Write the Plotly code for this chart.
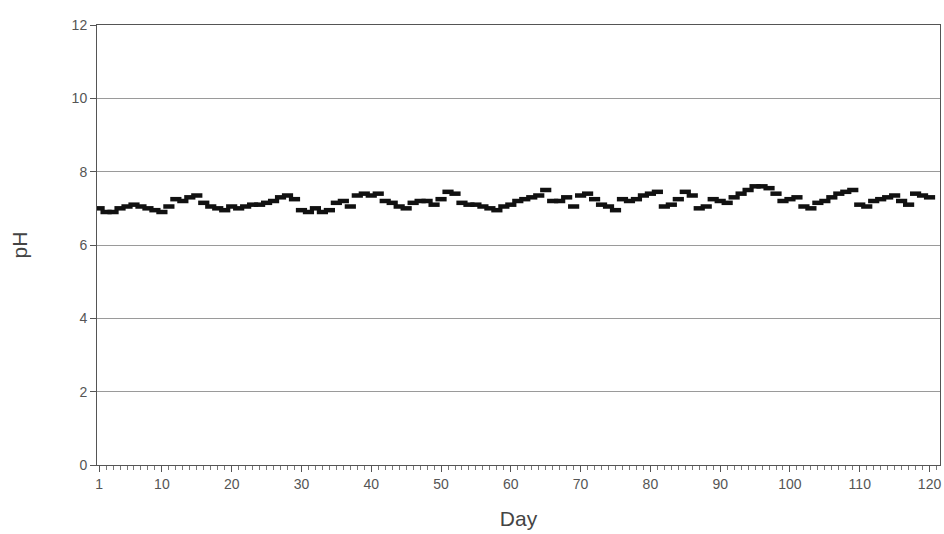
import plotly.graph_objects as go

days = list(range(1, 121))
ph = [
    7.0, 6.9, 6.9, 7.0, 7.05, 7.1, 7.05, 7.0, 6.95, 6.9,
    7.05, 7.25, 7.2, 7.3, 7.35, 7.15, 7.05, 7.0, 6.95, 7.05,
    7.0, 7.05, 7.1, 7.1, 7.15, 7.2, 7.3, 7.35, 7.25, 6.95,
    6.9, 7.0, 6.9, 6.95, 7.15, 7.2, 7.05, 7.35, 7.4, 7.35,
    7.4, 7.2, 7.15, 7.05, 7.0, 7.15, 7.2, 7.2, 7.1, 7.25,
    7.45, 7.4, 7.15, 7.1, 7.1, 7.05, 7.0, 6.95, 7.05, 7.1,
    7.2, 7.25, 7.3, 7.35, 7.5, 7.2, 7.2, 7.3, 7.05, 7.35,
    7.4, 7.25, 7.1, 7.05, 6.95, 7.25, 7.2, 7.25, 7.35, 7.4,
    7.45, 7.05, 7.1, 7.25, 7.45, 7.35, 7.0, 7.05, 7.25, 7.2,
    7.15, 7.3, 7.4, 7.5, 7.6, 7.6, 7.55, 7.4, 7.2, 7.25,
    7.3, 7.05, 7.0, 7.15, 7.2, 7.3, 7.4, 7.45, 7.5, 7.1,
    7.05, 7.2, 7.25, 7.3, 7.35, 7.2, 7.1, 7.4, 7.35, 7.3,
]
x_tickvals = [1, 10, 20, 30, 40, 50, 60, 70, 80, 90, 100, 110, 120]
x_ticktext = ["1", "10", "20", "30", "40", "50", "60", "70", "80", "90", "100", "110", "120"]
y_tickvals = [0, 2, 4, 6, 8, 10, 12]

fig = go.Figure()
fig.add_trace(go.Scatter(
    x=days, y=ph, mode="markers",
    marker=dict(symbol="line-ew-open", size=8, color="#111",
                line=dict(color="#111", width=4.5)),
    showlegend=False,
))

font = "Liberation Sans, Arial, sans-serif"
fig.update_layout(
    width=944, height=534,
    margin=dict(l=97, r=4, t=25, b=69),
    paper_bgcolor="white", plot_bgcolor="white",
    font=dict(family=font, color="#333"),
    xaxis=dict(
        range=[0.7, 121.5], tickvals=x_tickvals, ticktext=x_ticktext,
        showgrid=False, zeroline=False,
        showline=True, linecolor="#555", linewidth=1, mirror=True,
        ticks="outside", ticklen=6, tickcolor="#555",
        minor=dict(dtick=1, tick0=0, ticks="outside", ticklen=4, tickcolor="#777"),
        tickfont=dict(size=14, color="#555"),
        title=dict(text="Day", font=dict(size=21, color="#444"), standoff=20),
    ),
    yaxis=dict(
        range=[0, 12], tickvals=y_tickvals,
        showgrid=True, gridcolor="#9a9a9a", gridwidth=1, zeroline=False,
        showline=True, linecolor="#555", linewidth=1, mirror=True,
        ticks="outside", ticklen=6, tickcolor="#555",
        tickfont=dict(size=14, color="#555"),
        title=dict(text="pH", font=dict(size=21, color="#444"), standoff=38),
    ),
)

fig.write_html("out.html")
